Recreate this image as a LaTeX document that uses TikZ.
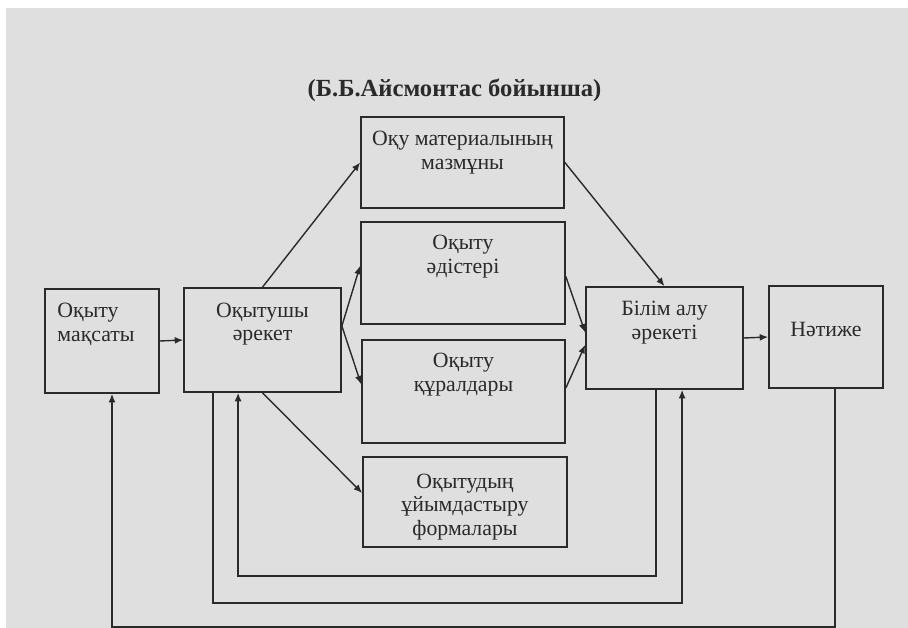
\documentclass[tikz,border=0pt]{standalone}
\usepackage{fontspec}
\setmainfont{Liberation Serif}
\usetikzlibrary{arrows.meta,positioning}
\definecolor{paper}{HTML}{DFDFDF}
\definecolor{ink}{HTML}{2A2A2A}

\begin{document}
\begin{tikzpicture}[x=0.025cm,y=-0.025cm,
    box/.style={draw=ink,line width=1.2pt,inner sep=0pt},
    lbl/.style={text=ink,align=center,inner sep=0pt,font=\fontsize{15.5}{17}\selectfont},
    link/.style={draw=ink,line width=1pt,-{Latex[length=6pt,width=5pt]}}]

    % Page and margins
    \useasboundingbox (0,0) rectangle (908,628);
    \fill[paper] (6,8) rectangle (908,628);

    % Title
    \node[text=ink,font=\fontsize{17.5}{20}\selectfont\bfseries] (title) at (454.5,90) {(Б.Б.Айсмонтас бойынша)};

    % Draw the boxes
    \node[box,minimum width=2.85cm,minimum height=2.6cm] (goal) at (102,341) {};
    \node[box,minimum width=3.925cm,minimum height=2.6cm] (teacher) at (262.5,340) {};
    \node[box,minimum width=5.075cm,minimum height=2.275cm] (content) at (462.5,162.5) {};
    \node[box,minimum width=5.1cm,minimum height=2.55cm] (methods) at (463,273) {};
    \node[box,minimum width=5.075cm,minimum height=2.575cm] (means) at (463.5,391.5) {};
    \node[box,minimum width=5.1cm,minimum height=2.25cm] (forms) at (465,502) {};
    \node[box,minimum width=3.925cm,minimum height=2.55cm] (learn) at (664.5,338) {};
    \node[box,minimum width=2.85cm,minimum height=2.55cm] (result) at (826,337) {};

    % Texts in the boxes
    \node[lbl,align=left,below=0.36cm of goal.north,xshift=-0.15cm] (goal-t) {Оқыту\\мақсаты};
    \node[lbl,below=0.38cm of teacher.north] (teacher-t) {Оқытушы\\әрекет};
    \node[lbl,below=0.37cm of content.north] (content-t) {Оқу материалының\\мазмұны};
    \node[lbl,below=0.34cm of methods.north] (methods-t) {Оқыту\\әдістері};
    \node[lbl,below=0.34cm of means.north] (means-t) {Оқыту\\құралдары};
    \node[lbl,below=0.43cm of forms.north] (forms-t) {Оқытудың\\ұйымдастыру\\формалары};
    \node[lbl,below=0.36cm of learn.north] (learn-t) {Білім алу\\әрекеті};
    \node[lbl,below=0.93cm of result.north] (result-t) {Нәтиже};

    % Forward arrows
    \draw[link] (goal.east) -- (teacher.west);
    \draw[link] (teacher.north) -- (content.west);
    \draw[link] (teacher.10) -- (methods.176);
    \draw[link] (teacher.10) -- (means.176);
    \draw[link] (teacher.south) -- (forms.175);
    \draw[link] (content.east) -- (learn.north);
    \draw[link] (methods.-2) -- (learn.176);
    \draw[link] (means.2.5) -- (learn.185);
    \draw[link] (learn.east) -- (result.west);

    % Feedback lines
    \draw[link] ([xshift=-0.21cm]learn.south) -- ++(0,186) -| ([xshift=-0.61cm]teacher.south);
    \draw[link] ([xshift=-1.24cm]teacher.south) -- ++(0,210) -| ([xshift=0.44cm]learn.south);
    \draw[link] ([xshift=0.225cm]result.south) -- ++(0,238) -| ([xshift=0.25cm]goal.south);
\end{tikzpicture}
\end{document}
